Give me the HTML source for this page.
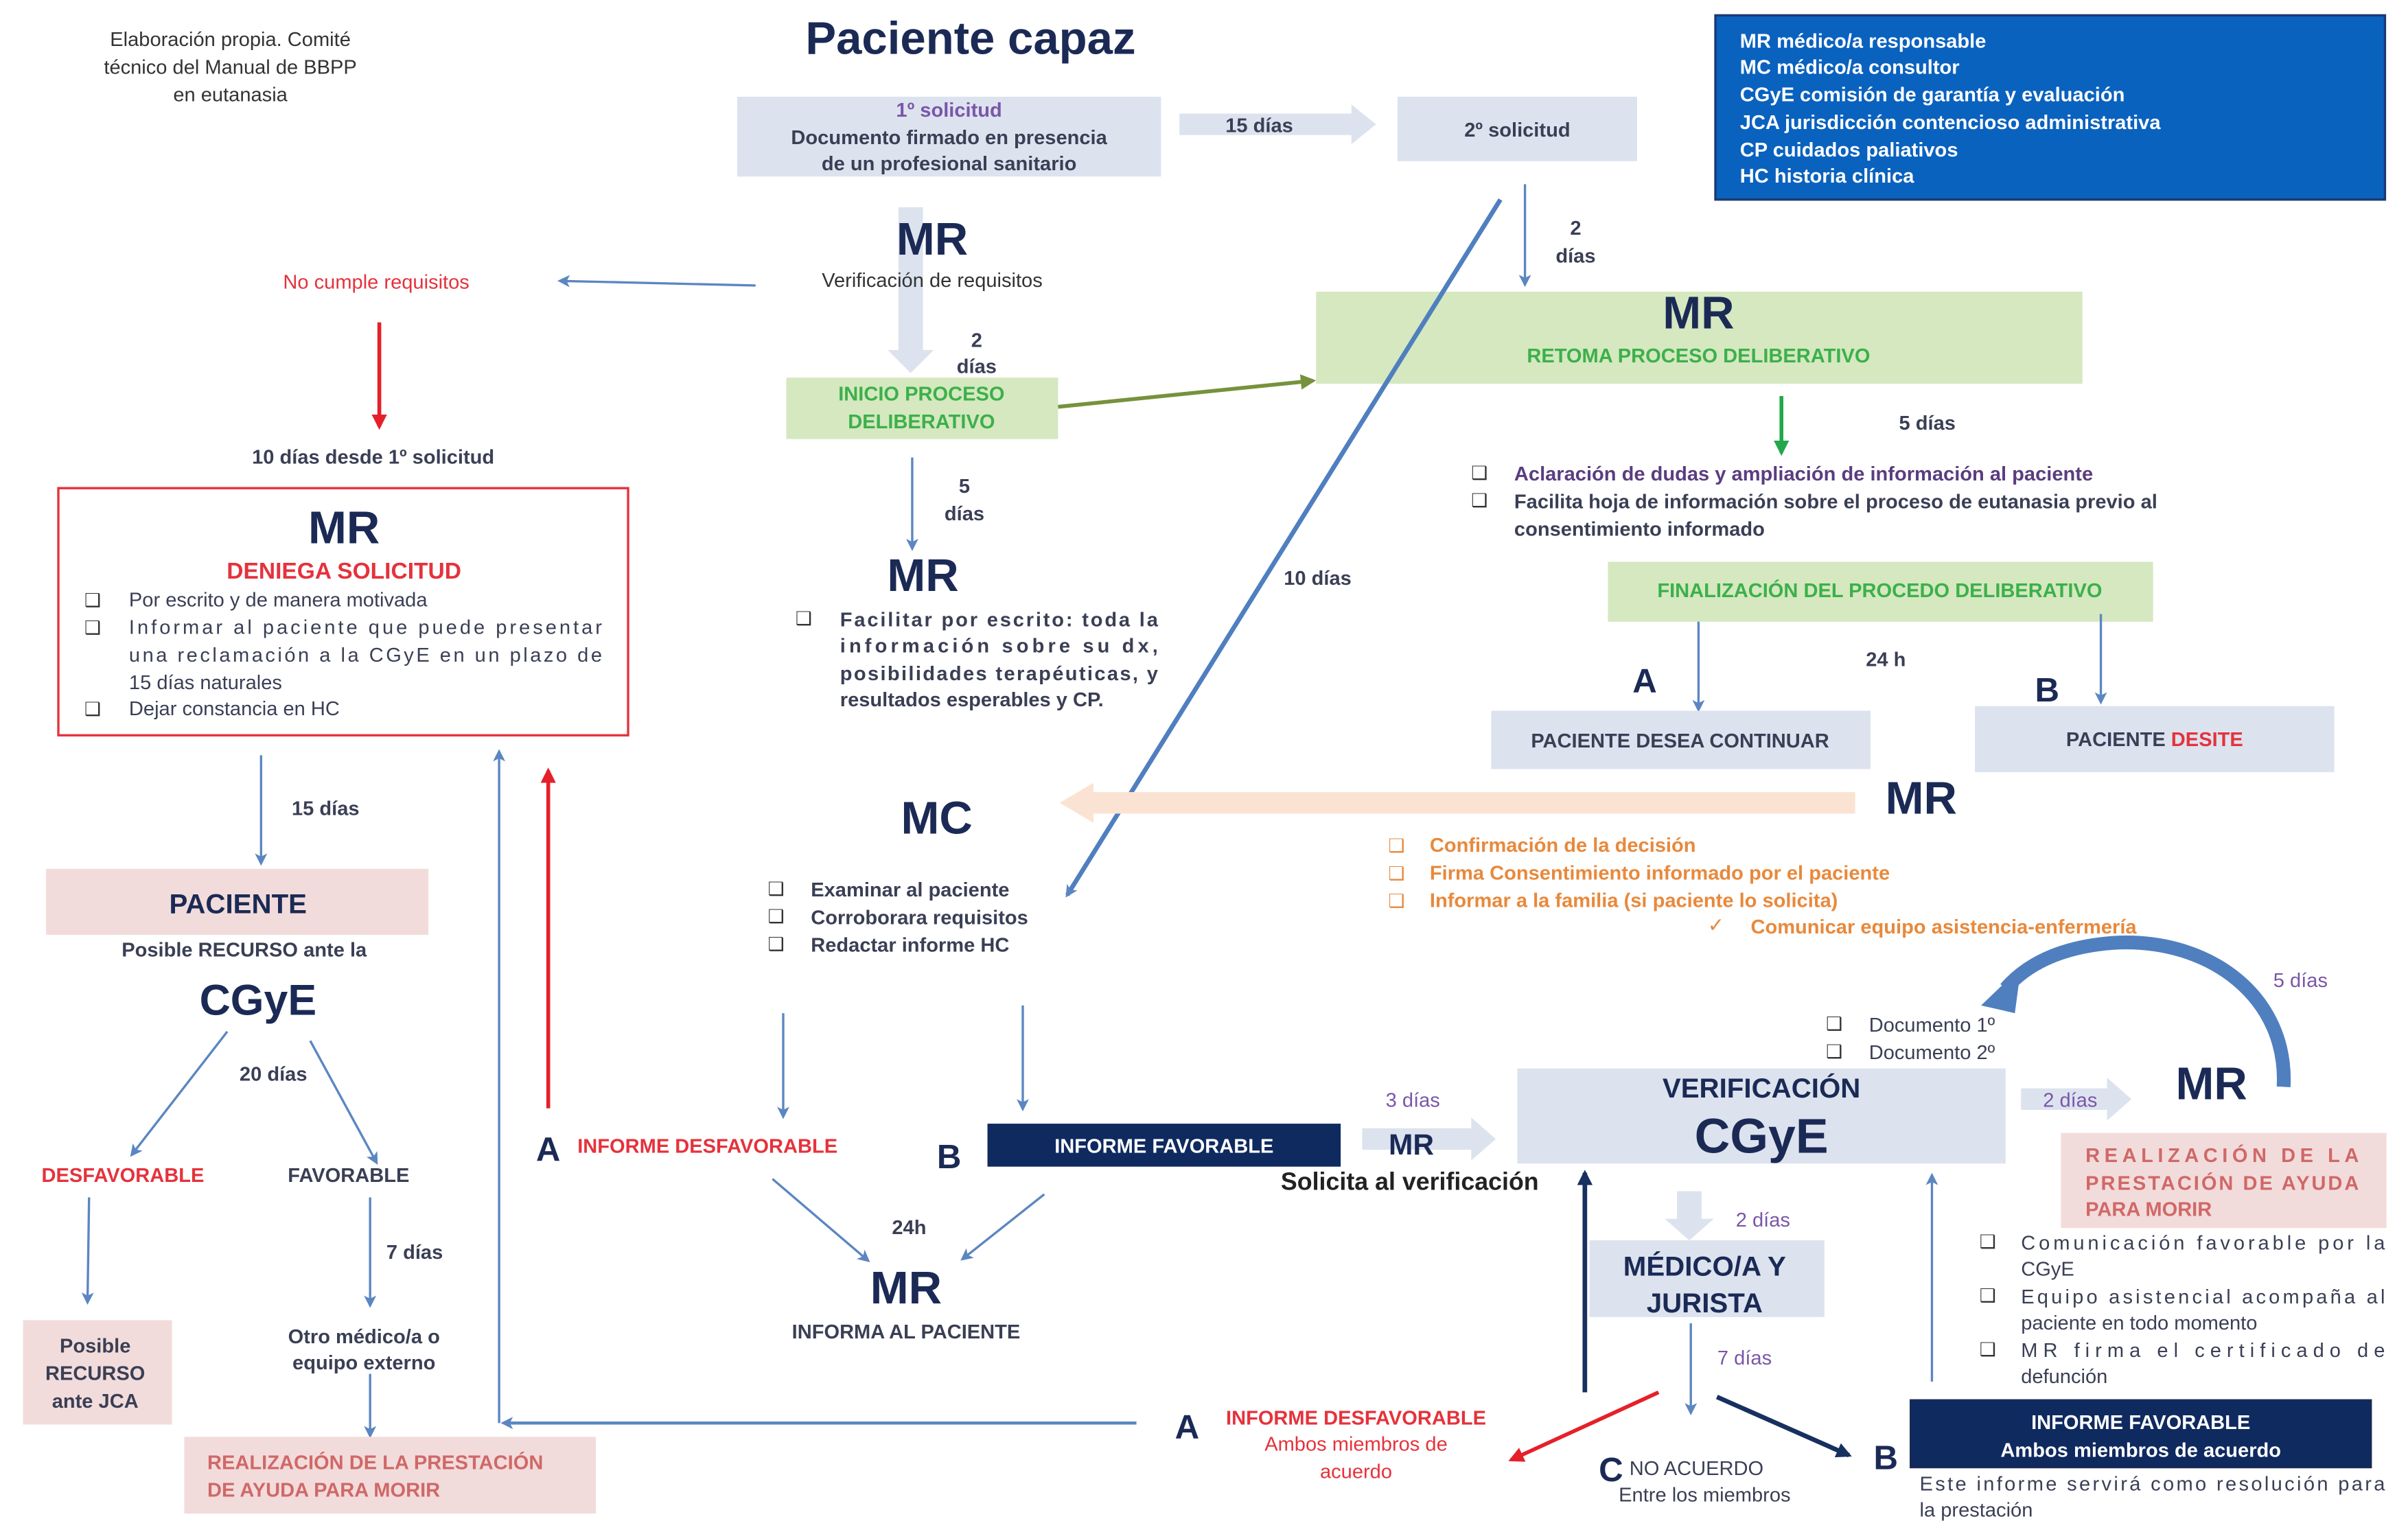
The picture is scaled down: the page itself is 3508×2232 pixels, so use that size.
<!DOCTYPE html>
<html><head><meta charset="utf-8"><style>
html,body{margin:0;padding:0;background:#fff;}
svg{display:block;}
text{font-family:"Liberation Sans Narrow","Liberation Sans",sans-serif;}
.t{font-size:13px;font-weight:bold;fill:#3a3f55;}
.c{text-anchor:middle;}
.big{font-size:30px;font-weight:bold;fill:#1b2a55;}
.red{fill:#e5323c;}
.grn{fill:#3cb04a;}
.pur{fill:#7a56a8;}
.org{fill:#e8893c;}
.w{fill:#fff;}
.ck{font-family:"DejaVu Sans",sans-serif;font-size:12px;fill:#333;}
.cko{font-family:"DejaVu Sans",sans-serif;font-size:12px;fill:#e8893c;}
</style></head><body>
<svg width="3508" height="2232" viewBox="0 0 1568 998" preserveAspectRatio="none" xmlns="http://www.w3.org/2000/svg">
<defs>
<marker id="ab" markerWidth="8" markerHeight="8" refX="6" refY="4" orient="auto" markerUnits="userSpaceOnUse"><path d="M0,0 L8,4 L0,8 L2,4 z" fill="#5b86c1"/></marker>
<marker id="ar" markerWidth="10" markerHeight="10" refX="8" refY="5" orient="auto" markerUnits="userSpaceOnUse"><path d="M0,0 L10,5 L0,10 z" fill="#e5202a"/></marker>
<marker id="ag" markerWidth="10" markerHeight="10" refX="8" refY="5" orient="auto" markerUnits="userSpaceOnUse"><path d="M0,0 L10,5 L0,10 z" fill="#76923c"/></marker>
<marker id="agg" markerWidth="10" markerHeight="10" refX="8" refY="5" orient="auto" markerUnits="userSpaceOnUse"><path d="M0,0 L10,5 L0,10 z" fill="#22a84a"/></marker>
<marker id="an" markerWidth="10" markerHeight="10" refX="8" refY="5" orient="auto" markerUnits="userSpaceOnUse"><path d="M0,0 L10,5 L0,10 z" fill="#17305f"/></marker>
</defs>

<!-- top-left note -->
<text class="t c" x="150" y="30" style="font-weight:normal;fill:#333">Elaboración propia. Comité</text>
<text class="t c" x="150" y="48" style="font-weight:normal;fill:#333">técnico del Manual de BBPP</text>
<text class="t c" x="150" y="66" style="font-weight:normal;fill:#333">en eutanasia</text>

<text class="c" x="632" y="35" style="font-size:30px;font-weight:bold;fill:#1b2a55">Paciente capaz</text>

<!-- 1º solicitud -->
<rect x="480" y="63" width="276" height="52" fill="#dce3ef"/>
<text class="t c pur" x="618" y="76">1º solicitud</text>
<text class="t c" x="618" y="94">Documento firmado en presencia</text>
<text class="t c" x="618" y="111">de un profesional sanitario</text>

<path d="M768,74 H880 V68 L896,81 L880,94 V88 H768 z" fill="#dce3ef"/>
<text class="t c" x="820" y="86">15 días</text>

<rect x="910" y="63" width="156" height="42" fill="#dce3ef"/>
<text class="t c" x="988" y="89">2º solicitud</text>

<!-- legend -->
<rect x="1117" y="10" width="436" height="120" fill="#0a62bf" stroke="#1a3a70" stroke-width="1.5"/>
<text class="t w" x="1133" y="31">MR médico/a responsable</text>
<text class="t w" x="1133" y="48">MC médico/a consultor</text>
<text class="t w" x="1133" y="66">CGyE comisión de garantía y evaluación</text>
<text class="t w" x="1133" y="84">JCA jurisdicción contencioso administrativa</text>
<text class="t w" x="1133" y="102">CP cuidados paliativos</text>
<text class="t w" x="1133" y="119">HC historia clínica</text>

<!-- MR verificación -->
<path d="M585,135 H601 V228 H608 L593,243 L578,228 H585 z" fill="#dce3ef"/>
<text class="big c" x="607" y="166">MR</text>
<text class="t c" x="607" y="187" style="font-weight:normal;fill:#333">Verificación de requisitos</text>
<text class="t c" x="636" y="226">2</text>
<text class="t c" x="636" y="243">días</text>

<rect x="512" y="246" width="177" height="40" fill="#d5e8c0"/>
<text class="t c grn" x="600" y="261">INICIO PROCESO</text>
<text class="t c grn" x="600" y="279">DELIBERATIVO</text>
<line x1="689" y1="265" x2="855" y2="248" stroke="#76923c" stroke-width="2.5" marker-end="url(#ag)"/>

<text class="t c red" x="245" y="188" style="font-weight:normal">No cumple requisitos</text>
<line x1="492" y1="186" x2="365" y2="183" stroke="#5b86c1" stroke-width="1.5" marker-end="url(#ab)"/>
<line x1="247" y1="210" x2="247" y2="278" stroke="#e5202a" stroke-width="2.5" marker-end="url(#ar)"/>
<text class="t c" x="243" y="302">10 días desde 1º solicitud</text>

<!-- deniega box -->
<rect x="38" y="318" width="371" height="161" fill="#fff" stroke="#e5323c" stroke-width="1.5"/>
<text class="big c" x="224" y="354">MR</text>
<text class="c red" x="224" y="377" style="font-size:15px;font-weight:bold">DENIEGA SOLICITUD</text>
<text class="ck" x="55" y="395">❑</text><text class="t" x="84" y="395" style="font-weight:normal">Por escrito y de manera motivada</text>
<text class="ck" x="55" y="413">❑</text><text class="t" x="84" y="413" textLength="308" style="font-weight:normal">Informar al paciente que puede presentar</text>
<text class="t" x="84" y="431" textLength="308" style="font-weight:normal">una reclamación a la CGyE en un plazo de</text>
<text class="t" x="84" y="449" style="font-weight:normal">15 días naturales</text>
<text class="ck" x="55" y="466">❑</text><text class="t" x="84" y="466" style="font-weight:normal">Dejar constancia en HC</text>

<!-- 5 días MR -->
<line x1="594" y1="298" x2="594" y2="357" stroke="#5b86c1" stroke-width="1.5" marker-end="url(#ab)"/>
<text class="t c" x="628" y="321">5</text>
<text class="t c" x="628" y="339">días</text>
<text class="big c" x="601" y="385">MR</text>
<text class="ck" x="518" y="407">❑</text>
<text class="t" x="547" y="408" textLength="207">Facilitar por escrito: toda la</text>
<text class="t" x="547" y="425" textLength="207">información sobre su dx,</text>
<text class="t" x="547" y="443" textLength="207">posibilidades terapéuticas, y</text>
<text class="t" x="547" y="460">resultados esperables y CP.</text>

<!-- 2 días to retoma -->
<line x1="993" y1="120" x2="993" y2="185" stroke="#5b86c1" stroke-width="1.5" marker-end="url(#ab)"/>
<text class="t c" x="1026" y="153">2</text>
<text class="t c" x="1026" y="171">días</text>
<rect x="857" y="190" width="499" height="60" fill="#d5e8c0"/>
<text class="big c" x="1106" y="214">MR</text>
<text class="t c grn" x="1106" y="236">RETOMA PROCESO DELIBERATIVO</text>

<!-- long 10 días line -->
<line x1="977" y1="130" x2="695" y2="583" stroke="#4f7fbf" stroke-width="3" marker-end="url(#ab)"/>
<text class="t c" x="858" y="381">10 días</text>

<line x1="1160" y1="258" x2="1160" y2="295" stroke="#22a84a" stroke-width="2.5" marker-end="url(#agg)"/>
<text class="t c" x="1255" y="280">5 días</text>
<text class="ck" x="958" y="312">❑</text><text class="t" x="986" y="313" style="fill:#5a3d80">Aclaración de dudas y ampliación de información al paciente</text>
<text class="ck" x="958" y="330">❑</text><text class="t" x="986" y="331">Facilita hoja de información sobre el proceso de eutanasia previo al</text>
<text class="t" x="986" y="349">consentimiento informado</text>

<rect x="1047" y="366" width="355" height="39" fill="#d5e8c0"/>
<text class="t c grn" x="1224" y="389">FINALIZACIÓN DEL PROCEDO DELIBERATIVO</text>
<line x1="1106" y1="405" x2="1106" y2="462" stroke="#5b86c1" stroke-width="1.5" marker-end="url(#ab)"/>
<line x1="1368" y1="400" x2="1368" y2="457" stroke="#5b86c1" stroke-width="1.5" marker-end="url(#ab)"/>
<text class="c" x="1071" y="451" style="font-size:22px;font-weight:bold;fill:#1b2a55">A</text>
<text class="c" x="1333" y="457" style="font-size:22px;font-weight:bold;fill:#1b2a55">B</text>
<text class="t c" x="1228" y="434">24 h</text>
<rect x="971" y="463" width="247" height="38" fill="#dce3ef"/>
<text class="t c" x="1094" y="487">PACIENTE DESEA CONTINUAR</text>
<rect x="1286" y="460" width="234" height="43" fill="#dce3ef"/>
<text class="t c" x="1403" y="486">PACIENTE <tspan class="red">DESITE</tspan></text>

<!-- peach arrow -->
<path d="M1208,516 H712 V510 L690,523 L712,536 V530 H1208 z" fill="#fbe3d3"/>
<text class="big c" x="1251" y="530">MR</text>
<text class="cko" x="904" y="555">❑</text><text class="t org" x="931" y="555">Confirmación de la decisión</text>
<text class="cko" x="904" y="573">❑</text><text class="t org" x="931" y="573">Firma Consentimiento informado por el paciente</text>
<text class="cko" x="904" y="591">❑</text><text class="t org" x="931" y="591">Informar a la familia (si paciente lo solicita)</text>
<text class="t org" x="1112" y="607" style="font-weight:normal">✓</text><text class="t org" x="1140" y="608">Comunicar equipo asistencia-enfermería</text>

<!-- MC -->
<text class="big c" x="610" y="543">MC</text>
<text class="ck" x="500" y="583">❑</text><text class="t" x="528" y="584">Examinar al paciente</text>
<text class="ck" x="500" y="601">❑</text><text class="t" x="528" y="602">Corroborara requisitos</text>
<text class="ck" x="500" y="619">❑</text><text class="t" x="528" y="620">Redactar informe HC</text>
<line x1="510" y1="660" x2="510" y2="727" stroke="#5b86c1" stroke-width="1.5" marker-end="url(#ab)"/>
<line x1="666" y1="655" x2="666" y2="722" stroke="#5b86c1" stroke-width="1.5" marker-end="url(#ab)"/>
<text class="c" x="357" y="756" style="font-size:22px;font-weight:bold;fill:#1b2a55">A</text>
<text class="t red" x="376" y="751">INFORME DESFAVORABLE</text>
<text class="c" x="618" y="761" style="font-size:22px;font-weight:bold;fill:#1b2a55">B</text>
<rect x="643" y="732" width="230" height="28" fill="#0f2a5f"/>
<text class="t c w" x="758" y="751">INFORME FAVORABLE</text>
<line x1="503" y1="768" x2="565" y2="821" stroke="#5b86c1" stroke-width="1.5" marker-end="url(#ab)"/>
<line x1="680" y1="778" x2="627" y2="820" stroke="#5b86c1" stroke-width="1.5" marker-end="url(#ab)"/>
<text class="t c" x="592" y="804">24h</text>
<text class="big c" x="590" y="849">MR</text>
<text class="t c" x="590" y="872">INFORMA AL PACIENTE</text>

<line x1="357" y1="722" x2="357" y2="502" stroke="#e5202a" stroke-width="2.5" marker-end="url(#ar)"/>
<line x1="740" y1="927" x2="328" y2="927" stroke="#5b86c1" stroke-width="2" marker-end="url(#ab)"/>
<line x1="325" y1="927" x2="325" y2="490" stroke="#5b86c1" stroke-width="1.5" marker-end="url(#ab)"/>

<!-- left lower -->
<line x1="170" y1="492" x2="170" y2="562" stroke="#5b86c1" stroke-width="1.5" marker-end="url(#ab)"/>
<text class="t c" x="212" y="531">15 días</text>
<rect x="30" y="566" width="249" height="43" fill="#f2dcdb"/>
<text class="c" x="155" y="595" style="font-size:18px;font-weight:bold;fill:#1b2a55">PACIENTE</text>
<text class="t c" x="159" y="623">Posible RECURSO  ante la</text>
<text class="c" x="168" y="661" style="font-size:28px;font-weight:bold;fill:#1b2a55">CGyE</text>
<line x1="148" y1="672" x2="86" y2="752" stroke="#5b86c1" stroke-width="1.5" marker-end="url(#ab)"/>
<line x1="202" y1="678" x2="245" y2="757" stroke="#5b86c1" stroke-width="1.5" marker-end="url(#ab)"/>
<text class="t c" x="178" y="704">20 días</text>
<text class="t c red" x="80" y="770">DESFAVORABLE</text>
<text class="t c" x="227" y="770">FAVORABLE</text>
<line x1="58" y1="780" x2="57" y2="848" stroke="#5b86c1" stroke-width="1.5" marker-end="url(#ab)"/>
<line x1="241" y1="780" x2="241" y2="850" stroke="#5b86c1" stroke-width="1.5" marker-end="url(#ab)"/>
<text class="t c" x="270" y="820">7 días</text>
<rect x="15" y="860" width="97" height="68" fill="#f2dcdb"/>
<text class="t c" x="62" y="881">Posible</text>
<text class="t c" x="62" y="899">RECURSO</text>
<text class="t c" x="62" y="917">ante JCA</text>
<text class="t c" x="237" y="875">Otro médico/a o</text>
<text class="t c" x="237" y="892">equipo externo</text>
<line x1="241" y1="895" x2="241" y2="935" stroke="#5b86c1" stroke-width="1.5" marker-end="url(#ab)"/>
<rect x="120" y="936" width="268" height="50" fill="#f2dcdb"/>
<text class="t" x="135" y="957" style="fill:#d06868">REALIZACIÓN DE LA PRESTACIÓN</text>
<text class="t" x="135" y="975" style="fill:#d06868">DE AYUDA PARA MORIR</text>

<!-- bottom right -->
<text class="c" x="773" y="937" style="font-size:22px;font-weight:bold;fill:#1b2a55">A</text>
<text class="t c red" x="883" y="928">INFORME DESFAVORABLE</text>
<text class="t c red" x="883" y="945" style="font-weight:normal">Ambos miembros de</text>
<text class="t c red" x="883" y="963" style="font-weight:normal">acuerdo</text>

<path d="M887,735 H958 V728 L974,742 L958,756 V749 H887 z" fill="#dce3ef"/>
<text class="c" x="919" y="752" style="font-size:19px;font-weight:bold;fill:#1b2a55">MR</text>
<text class="t c pur" x="920" y="721" style="font-weight:normal">3 días</text>
<text class="c" x="918" y="775" style="font-size:16px;font-weight:bold;fill:#222">Solicita al verificación</text>

<rect x="988" y="696" width="318" height="62" fill="#dce3ef"/>
<text class="c" x="1147" y="715" style="font-size:18px;font-weight:bold;fill:#1b2a55">VERIFICACIÓN</text>
<text class="c" x="1147" y="751" style="font-size:32px;font-weight:bold;fill:#1b2a55">CGyE</text>
<text class="ck" x="1189" y="671">❑</text><text class="t" x="1217" y="672" style="font-weight:normal">Documento 1º</text>
<text class="ck" x="1189" y="689">❑</text><text class="t" x="1217" y="690" style="font-weight:normal">Documento 2º</text>

<!-- curved arrow -->
<path d="M1487,708 C1490,650 1440,612 1380,614 C1340,616 1318,630 1306,644" fill="none" stroke="#4f7fbf" stroke-width="9"/>
<path d="M1290,655 L1316,630 L1312,660 z" fill="#4f7fbf"/>
<text class="t c pur" x="1498" y="643" style="font-weight:normal">5 días</text>

<path d="M1316,709 H1372 V702 L1388,716 L1372,730 V723 H1316 z" fill="#dce3ef"/>
<text class="t c pur" x="1348" y="721" style="font-weight:normal">2 días</text>
<text class="big c" x="1440" y="716">MR</text>
<rect x="1342" y="738" width="212" height="62" fill="#f2dcdb"/>
<text class="t" x="1358" y="757" textLength="178" style="fill:#d06868">REALIZACIÓN DE LA</text>
<text class="t" x="1358" y="775" textLength="178" style="fill:#d06868">PRESTACIÓN DE AYUDA</text>
<text class="t" x="1358" y="792" style="fill:#d06868">PARA MORIR</text>
<text class="ck" x="1289" y="813">❑</text><text class="t" x="1316" y="814" textLength="237" style="font-weight:normal">Comunicación favorable por la</text>
<text class="t" x="1316" y="831" style="font-weight:normal">CGyE</text>
<text class="ck" x="1289" y="848">❑</text><text class="t" x="1316" y="849" textLength="237" style="font-weight:normal">Equipo asistencial acompaña al</text>
<text class="t" x="1316" y="866" style="font-weight:normal">paciente en todo momento</text>
<text class="ck" x="1289" y="883">❑</text><text class="t" x="1316" y="884" textLength="237" style="font-weight:normal">MR firma el certificado de</text>
<text class="t" x="1316" y="901" style="font-weight:normal">defunción</text>

<path d="M1092,776 H1108 V794 H1116 L1100,808 L1084,794 H1092 z" fill="#dce3ef"/>
<text class="t c pur" x="1148" y="799" style="font-weight:normal">2 días</text>
<rect x="1035" y="808" width="153" height="50" fill="#dce3ef"/>
<text class="c" x="1110" y="831" style="font-size:18px;font-weight:bold;fill:#1b2a55">MÉDICO/A Y</text>
<text class="c" x="1110" y="855" style="font-size:18px;font-weight:bold;fill:#1b2a55">JURISTA</text>
<line x1="1101" y1="862" x2="1101" y2="920" stroke="#5b86c1" stroke-width="1.5" marker-end="url(#ab)"/>
<text class="t c pur" x="1136" y="889" style="font-weight:normal">7 días</text>
<line x1="1032" y1="907" x2="1032" y2="764" stroke="#17305f" stroke-width="3" marker-end="url(#an)"/>
<line x1="1258" y1="900" x2="1258" y2="766" stroke="#5b86c1" stroke-width="1.5" marker-end="url(#ab)"/>
<line x1="1080" y1="907" x2="984" y2="951" stroke="#e5202a" stroke-width="2.5" marker-end="url(#ar)"/>
<line x1="1118" y1="910" x2="1204" y2="948" stroke="#17305f" stroke-width="3" marker-end="url(#an)"/>
<text class="c" x="1049" y="965" style="font-size:22px;font-weight:bold;fill:#1b2a55">C</text>
<text class="t" x="1061" y="961" style="font-weight:normal">NO ACUERDO</text>
<text class="t c" x="1110" y="978" style="font-weight:normal">Entre los miembros</text>
<text class="c" x="1228" y="957" style="font-size:22px;font-weight:bold;fill:#1b2a55">B</text>
<rect x="1244" y="912" width="300" height="44" fill="#0f2a5f" stroke="#1a2a50"/>
<text class="t c w" x="1394" y="931">INFORME FAVORABLE</text>
<text class="t c w" x="1394" y="949">Ambos miembros de acuerdo</text>
<text class="t" x="1250" y="971" textLength="303" style="font-weight:normal">Este informe servirá como resolución para</text>
<text class="t" x="1250" y="988" style="font-weight:normal">la prestación</text>
</svg>
</body></html>
